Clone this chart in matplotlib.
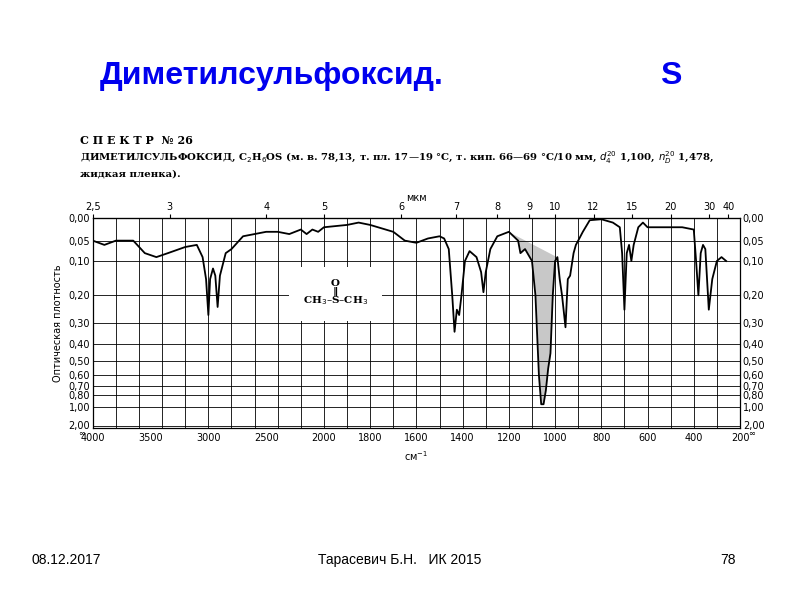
import numpy as np
import matplotlib.pyplot as plt

# IR spectrum of DMSO (wavenumber cm-1, absorbance)
wn = [4000, 3900, 3800, 3650, 3550, 3450, 3350, 3200, 3100, 3050, 3020, 3000, 2985,
      2960, 2940, 2920, 2900, 2850, 2800, 2700, 2500, 2400, 2300, 2200, 2150, 2100,
      2050, 2000, 1900, 1850, 1800, 1700, 1650, 1600, 1550, 1500, 1480, 1460, 1445,
      1435, 1425, 1415, 1405, 1390, 1370, 1340, 1320, 1310, 1300, 1280, 1250, 1200,
      1160, 1150, 1130, 1100, 1085, 1070, 1060, 1050, 1040, 1030, 1020, 1010, 1000,
      990, 980, 970, 955, 945, 935, 920, 910, 900, 880, 850, 800, 750, 720, 710, 700,
      690, 680, 670, 660, 640, 620, 600, 500, 450, 400, 390, 380, 370, 360, 350, 335,
      320, 300, 280, 260]
absorb = [0.05, 0.06, 0.05, 0.05, 0.08, 0.09, 0.08, 0.065, 0.06, 0.09, 0.15, 0.27, 0.15,
          0.12, 0.14, 0.24, 0.14, 0.08, 0.07, 0.04, 0.03, 0.03, 0.035, 0.025, 0.035, 0.025,
          0.03, 0.02, 0.015, 0.01, 0.015, 0.03, 0.05, 0.055, 0.045, 0.04, 0.045, 0.07, 0.2,
          0.34, 0.25, 0.27, 0.2, 0.1, 0.075, 0.09, 0.13, 0.19, 0.13, 0.07, 0.04, 0.03,
          0.05, 0.08, 0.07, 0.1, 0.2, 0.6, 0.95, 0.95, 0.75, 0.55, 0.45, 0.2, 0.1,
          0.09, 0.15, 0.2, 0.32, 0.15, 0.14, 0.08, 0.06, 0.05, 0.03, 0.005, 0.003, 0.01, 0.02, 0.08, 0.25,
          0.08, 0.06, 0.1, 0.06, 0.02, 0.01, 0.02, 0.02, 0.02, 0.025, 0.1, 0.2, 0.08, 0.06, 0.07, 0.25,
          0.15, 0.1, 0.09, 0.1]

a_ticks = [0.0, 0.05, 0.10, 0.20, 0.30, 0.40, 0.50, 0.60, 0.70, 0.80, 1.00, 2.00]
a_labels = ['0,00', '0,05', '0,10', '0,20', '0,30', '0,40', '0,50', '0,60', '0,70', '0,80', '1,00', '2,00']
wn_ticks = [4000, 3500, 3000, 2500, 2000, 1800, 1600, 1400, 1200, 1000, 800, 600, 400, 200]
um_ticks = [2.5, 3, 4, 5, 6, 7, 8, 9, 10, 12, 15, 20, 30, 40]

def wx(w):
    # grating scale change at 2000 cm-1
    w = np.asarray(w, dtype=float)
    return np.where(w >= 2000, (4000 - w) / 2, 1000 + (2000 - w))

def ay(a):
    # chart paper is linear in transmittance
    return 1 - 10 ** (-np.asarray(a, dtype=float))

fig = plt.figure(figsize=(8, 6), dpi=100)
fig.text(0.125, 0.86, 'Диметилсульфоксид.', color='#0000ee', fontsize=23, weight='bold', family='Liberation Sans')
fig.text(0.825, 0.86, 'S', color='#0000ee', fontsize=23, weight='bold', family='Liberation Sans')
fig.text(0.1, 0.76, 'С П Е К Т Р  № 26', fontsize=8, weight='bold', family='DejaVu Serif')
fig.text(0.1, 0.732, 'ДИМЕТИЛСУЛЬФОКСИД, C$_2$H$_6$OS (м. в. 78,13, т. пл. 17—19 °С, т. кип. 66—69 °С/10 мм, '
         '$d_4^{20}$ 1,100, $n_D^{20}$ 1,478,', fontsize=7.3, family='DejaVu Serif', weight='bold')
fig.text(0.1, 0.705, 'жидкая пленка).', fontsize=7.3, family='DejaVu Serif', weight='bold')
fig.text(0.04, 0.06, '08.12.2017', fontsize=10, family='Liberation Sans')
fig.text(0.5, 0.06, 'Тарасевич Б.Н.   ИК 2015', fontsize=10, family='Liberation Sans', ha='center')
fig.text(0.9, 0.06, '78', fontsize=10, family='Liberation Sans')

ax = fig.add_axes([0.116, 0.287, 0.809, 0.35])
x = wx(wn)
y = ay(absorb)
# grey shaded band of the S=O peak
mask = (np.array(wn) <= 1200) & (np.array(wn) >= 990)
base = np.interp(x[mask], [wx(1200), wx(990)], [ay(0.03), ay(0.09)])
ax.fill_between(x[mask], base, y[mask], color='#c8c8c8', lw=0)
ax.plot(x, y, color='black', lw=1.3)

ax.set_xlim(0, 2800)
ax.set_ylim(1, 0)
ax.set_xticks(wx(wn_ticks))
ax.set_xticklabels([str(w) for w in wn_ticks], fontsize=7)
ax.set_yticks(ay(a_ticks[:-1]).tolist() + [0.985])
ax.set_yticklabels(a_labels, fontsize=7)
ax.tick_params(length=0, pad=2, labelright=True)
ax.tick_params(axis='x', pad=4)
grid_wn = list(range(4000, 2000, -200)) + list(range(2000, 199, -100))
for g in grid_wn:
    ax.axvline(wx(g), color='black', lw=0.6)
for a in a_ticks[1:]:
    ax.axhline(ay(a), color='black', lw=0.6)
ax.text(-0.012, -0.005, '∞', transform=ax.transAxes, fontsize=6, ha='right', va='top')
ax.text(1.012, -0.005, '∞', transform=ax.transAxes, fontsize=6, ha='left', va='top')
ax.set_ylabel('Оптическая плотность', fontsize=7)
ax.text(0.5, -0.1, 'см$^{-1}$', transform=ax.transAxes, fontsize=7, ha='center', va='top')
ax.text(wx(1950), 0.36, 'O\n‖\nCH$_3$–S–CH$_3$', fontsize=7.5, ha='center', va='center',
        family='DejaVu Serif', weight='bold', linespacing=0.8,
        bbox=dict(facecolor='white', edgecolor='none', pad=10))

top = ax.secondary_xaxis('top', functions=(lambda u: u, lambda u: u))
top.set_xticks(wx(10000 / np.array(um_ticks)))
top.set_xticklabels([str(u).replace('.', ',') for u in um_ticks], fontsize=7)
top.tick_params(length=3, pad=1)
ax.text(0.5, 1.08, 'мкм', transform=ax.transAxes, fontsize=7, ha='center')
for s in ax.spines.values():
    s.set_linewidth(0.9)

fig.savefig('out.png')
